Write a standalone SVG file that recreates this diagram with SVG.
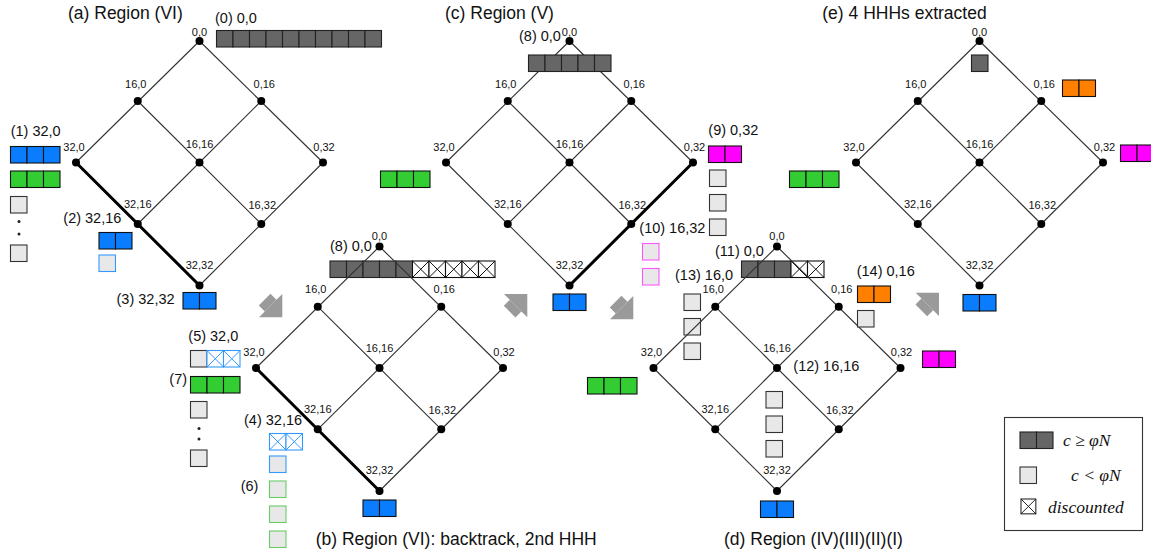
<svg xmlns="http://www.w3.org/2000/svg" xmlns:xlink="http://www.w3.org/1999/xlink" width="1151" height="554" viewBox="0 0 1151 554">
<style>
.ln{stroke:#333;stroke-width:1.1;fill:none}
.thk{stroke:#000;stroke-width:3;fill:none;stroke-linecap:round}
.dot{fill:#000}
.lbl{font-family:"Liberation Sans",Arial,sans-serif;font-size:11px;fill:#111;text-anchor:middle}
.itm{font-family:"Liberation Sans",Arial,sans-serif;font-size:14.5px;fill:#111}
.ttl{font-family:"Liberation Sans",Arial,sans-serif;font-size:17.5px;fill:#111}
.leg{font-family:"Liberation Serif","Times New Roman",serif;font-size:17.5px;font-style:italic;fill:#111}
rect{stroke-width:1.1}
.dk{fill:#666;stroke:#222}
.bl{fill:#0a7dff;stroke:#111}
.gr{fill:#33cc33;stroke:#111}
.mg{fill:#ff00ff;stroke:#111}
.or{fill:#ff8000;stroke:#111}
.lt{fill:#e8e8e8;stroke:#333}
.ltb{fill:#e8e8e8;stroke:#3399ff}
.ltg{fill:#e8e8e8;stroke:#66cc66}
.ltp{fill:#e8e8e8;stroke:#ff55ff}
.arw{fill:#9a9a9a}
</style>
<defs>
<g id="xcell"><rect width="16.5" height="16.5" fill="#fff" stroke="currentColor"/><path d="M0,0L16.5,16.5M16.5,0L0,16.5" stroke="currentColor" stroke-width="1"/></g>
<g id="barrow"><path class="arw" d="M0,0L-16.5,-16.5L-16.5,-8.25L-25,-8.25L-25,8.25L-16.5,8.25L-16.5,16.5Z"/><path d="M-16.5,-8.25L-16.5,8.25" stroke="#b5b5b5" stroke-width="0.8"/></g>
</defs>
<rect width="1151" height="554" fill="#fff" stroke="none"/>

<!-- ===== (a) ===== -->
<text class="ttl" x="68" y="18.5">(a) Region (VI)</text>
<g id="connectors-a">
<path class="ln" d="M199.5,41L76,162.5M199.5,41L323,162.5M137.75,101L261.25,224M261.25,101L137.75,224M323,162.5L199.5,285.5"/>
<path class="thk" d="M76,162.5L199.5,285.5"/>
</g>
<g id="a-0-0"><circle class="dot" cx="199.5" cy="41" r="4"/><text class="lbl" x="199.5" y="35.5">0,0</text></g>
<g id="a-16-0"><circle class="dot" cx="137.75" cy="101" r="4"/><text class="lbl" x="135.75" y="87.5">16,0</text></g>
<g id="a-0-16"><circle class="dot" cx="261.25" cy="101" r="4"/><text class="lbl" x="264.25" y="87.5">0,16</text></g>
<g id="a-32-0"><circle class="dot" cx="76" cy="162.5" r="4"/><text class="lbl" x="74" y="150.5">32,0</text></g>
<g id="a-16-16"><circle class="dot" cx="199.5" cy="162.5" r="4"/><text class="lbl" x="199.5" y="147.5">16,16</text></g>
<g id="a-0-32"><circle class="dot" cx="323" cy="162.5" r="4"/><text class="lbl" x="324" y="150.5">0,32</text></g>
<g id="a-32-16"><circle class="dot" cx="137.75" cy="224" r="4"/><text class="lbl" x="137.75" y="208">32,16</text></g>
<g id="a-16-32"><circle class="dot" cx="261.25" cy="224" r="4"/><text class="lbl" x="262.25" y="209">16,32</text></g>
<g id="a-32-32"><circle class="dot" cx="199.5" cy="285.5" r="4"/><text class="lbl" x="199.5" y="269">32,32</text></g>
<g id="a-item0"><text class="itm" x="215" y="23">(0) 0,0</text>
<rect class="dk" x="216.5" y="30.5" width="16.5" height="16.5"/><rect class="dk" x="233" y="30.5" width="16.5" height="16.5"/><rect class="dk" x="249.5" y="30.5" width="16.5" height="16.5"/><rect class="dk" x="266" y="30.5" width="16.5" height="16.5"/><rect class="dk" x="282.5" y="30.5" width="16.5" height="16.5"/><rect class="dk" x="299" y="30.5" width="16.5" height="16.5"/><rect class="dk" x="315.5" y="30.5" width="16.5" height="16.5"/><rect class="dk" x="332" y="30.5" width="16.5" height="16.5"/><rect class="dk" x="348.5" y="30.5" width="16.5" height="16.5"/><rect class="dk" x="365" y="30.5" width="16.5" height="16.5"/></g>
<g id="a-item1"><text class="itm" x="10.7" y="136">(1) 32,0</text>
<rect class="bl" x="10.5" y="146.5" width="16.5" height="16.5"/><rect class="bl" x="27" y="146.5" width="16.5" height="16.5"/><rect class="bl" x="43.5" y="146.5" width="16.5" height="16.5"/>
<rect class="gr" x="10.5" y="171" width="16.5" height="16.5"/><rect class="gr" x="27" y="171" width="16.5" height="16.5"/><rect class="gr" x="43.5" y="171" width="16.5" height="16.5"/>
<rect class="lt" x="10.5" y="196.5" width="16.5" height="16.5"/><circle cx="19" cy="221.5" r="1.5" fill="#222"/><circle cx="19" cy="234" r="1.5" fill="#222"/><rect class="lt" x="10.5" y="245" width="16.5" height="16.5"/></g>
<g id="a-item2"><text class="itm" x="63.3" y="222.5">(2) 32,16</text>
<rect class="bl" x="99" y="232.5" width="16.5" height="16.5"/><rect class="bl" x="115.5" y="232.5" width="16.5" height="16.5"/>
<rect class="ltb" x="99" y="255" width="16.5" height="16.5"/></g>
<g id="a-item3"><text class="itm" x="116.5" y="304">(3) 32,32</text>
<rect class="bl" x="183" y="292.5" width="16.5" height="16.5"/><rect class="bl" x="199.5" y="292.5" width="16.5" height="16.5"/></g>

<!-- ===== (b) ===== -->
<text class="ttl" x="315.7" y="544.5">(b) Region (VI): backtrack, 2nd HHH</text>
<g id="b-item8"><text class="itm" x="330" y="250.5">(8) 0,0</text>
<rect class="dk" x="330" y="261" width="16.5" height="16.5"/><rect class="dk" x="346.5" y="261" width="16.5" height="16.5"/><rect class="dk" x="363" y="261" width="16.5" height="16.5"/><rect class="dk" x="379.5" y="261" width="16.5" height="16.5"/><rect class="dk" x="396" y="261" width="16.5" height="16.5"/>
<use xlink:href="#xcell" x="412.5" y="261" color="#111"/><use xlink:href="#xcell" x="429" y="261" color="#111"/><use xlink:href="#xcell" x="445.5" y="261" color="#111"/><use xlink:href="#xcell" x="462" y="261" color="#111"/><use xlink:href="#xcell" x="478.5" y="261" color="#111"/></g>
<g id="connectors-b">
<path class="ln" d="M379.5,246.5L256,368M379.5,246.5L503,368M317.75,306.7L441.25,429.3M441.25,306.7L317.75,429.3M503,368L379.5,491"/>
<path class="thk" d="M256,368L379.5,491"/>
</g>
<g id="b-0-0"><circle class="dot" cx="379.5" cy="246.5" r="4"/><text class="lbl" x="379.5" y="240">0,0</text></g>
<g id="b-16-0"><circle class="dot" cx="317.75" cy="306.7" r="4"/><text class="lbl" x="315.75" y="293.2">16,0</text></g>
<g id="b-0-16"><circle class="dot" cx="441.25" cy="306.7" r="4"/><text class="lbl" x="444.25" y="293.2">0,16</text></g>
<g id="b-32-0"><circle class="dot" cx="256" cy="368" r="4"/><text class="lbl" x="254" y="356">32,0</text></g>
<g id="b-16-16"><circle class="dot" cx="379.5" cy="368" r="4"/><text class="lbl" x="379.5" y="352">16,16</text></g>
<g id="b-0-32"><circle class="dot" cx="503" cy="368" r="4"/><text class="lbl" x="504" y="356">0,32</text></g>
<g id="b-32-16"><circle class="dot" cx="317.75" cy="429.3" r="4"/><text class="lbl" x="317.75" y="413.3">32,16</text></g>
<g id="b-16-32"><circle class="dot" cx="441.25" cy="429.3" r="4"/><text class="lbl" x="442.25" y="414.3">16,32</text></g>
<g id="b-32-32"><circle class="dot" cx="379.5" cy="491" r="4"/><text class="lbl" x="379.5" y="473.5">32,32</text></g>
<g id="b-item5"><text class="itm" x="188.3" y="341">(5) 32,0</text>
<rect class="lt" x="190.5" y="350.5" width="16.5" height="16.5"/><use xlink:href="#xcell" x="207" y="350.5" color="#3399ff"/><use xlink:href="#xcell" x="223.5" y="350.5" color="#3399ff"/></g>
<g id="b-item7"><text class="itm" x="169.3" y="384">(7)</text>
<rect class="gr" x="190.5" y="376.5" width="16.5" height="16.5"/><rect class="gr" x="207" y="376.5" width="16.5" height="16.5"/><rect class="gr" x="223.5" y="376.5" width="16.5" height="16.5"/>
<rect class="lt" x="190.5" y="401.5" width="16.5" height="16.5"/><circle cx="199" cy="428.5" r="1.5" fill="#222"/><circle cx="199" cy="439" r="1.5" fill="#222"/><rect class="lt" x="190.5" y="450" width="16.5" height="16.5"/></g>
<g id="b-item4"><text class="itm" x="244" y="425">(4) 32,16</text>
<use xlink:href="#xcell" x="269.5" y="433.5" color="#3399ff"/><use xlink:href="#xcell" x="286" y="433.5" color="#3399ff"/>
<rect class="ltb" x="269.5" y="456" width="16.5" height="16.5"/></g>
<g id="b-item6"><text class="itm" x="240.7" y="491">(6)</text>
<rect class="ltg" x="269.5" y="481" width="16.5" height="16.5"/><rect class="ltg" x="269.5" y="506" width="16.5" height="16.5"/><rect class="ltg" x="269.5" y="531" width="16.5" height="16.5"/></g>
<g id="b-itembottom"><rect class="bl" x="363" y="500" width="16.5" height="16.5"/><rect class="bl" x="379.5" y="500" width="16.5" height="16.5"/></g>

<!-- ===== (c) ===== -->
<text class="ttl" x="445" y="18.5">(c) Region (V)</text>
<g id="connectors-c">
<path class="ln" d="M569.5,41L446,162.5M569.5,41L693,162.5M507.75,101L631.25,224M631.25,101L507.75,224M446,162.5L569.5,285.5"/>
<path class="thk" d="M693,162.5L569.5,285.5"/>
</g>
<g id="c-0-0"><circle class="dot" cx="569.5" cy="41" r="4"/><text class="lbl" x="569.5" y="35.5">0,0</text></g>
<g id="c-16-0"><circle class="dot" cx="507.75" cy="101" r="4"/><text class="lbl" x="505.75" y="87.5">16,0</text></g>
<g id="c-0-16"><circle class="dot" cx="631.25" cy="101" r="4"/><text class="lbl" x="634.25" y="87.5">0,16</text></g>
<g id="c-32-0"><circle class="dot" cx="446" cy="162.5" r="4"/><text class="lbl" x="444" y="150.5">32,0</text></g>
<g id="c-16-16"><circle class="dot" cx="569.5" cy="162.5" r="4"/><text class="lbl" x="569.5" y="147.5">16,16</text></g>
<g id="c-0-32"><circle class="dot" cx="693" cy="162.5" r="4"/><text class="lbl" x="694.5" y="150.5">0,32</text></g>
<g id="c-32-16"><circle class="dot" cx="507.75" cy="224" r="4"/><text class="lbl" x="507.75" y="208">32,16</text></g>
<g id="c-16-32"><circle class="dot" cx="631.25" cy="224" r="4"/><text class="lbl" x="632.25" y="209">16,32</text></g>
<g id="c-32-32"><circle class="dot" cx="569.5" cy="285.5" r="4"/><text class="lbl" x="569.5" y="269">32,32</text></g>
<g id="c-item8"><text class="itm" x="519" y="40.5">(8) 0,0</text>
<rect class="dk" x="528.5" y="55" width="16.5" height="16.5"/><rect class="dk" x="545" y="55" width="16.5" height="16.5"/><rect class="dk" x="561.5" y="55" width="16.5" height="16.5"/><rect class="dk" x="578" y="55" width="16.5" height="16.5"/><rect class="dk" x="594.5" y="55" width="16.5" height="16.5"/></g>
<g id="c-itemgreen"><rect class="gr" x="380.5" y="171" width="16.5" height="16.5"/><rect class="gr" x="397" y="171" width="16.5" height="16.5"/><rect class="gr" x="413.5" y="171" width="16.5" height="16.5"/></g>
<g id="c-item9"><text class="itm" x="708.3" y="134.5">(9) 0,32</text>
<rect class="mg" x="708.5" y="146" width="16.5" height="16.5"/><rect class="mg" x="725" y="146" width="16.5" height="16.5"/>
<rect class="lt" x="709.5" y="170" width="16.5" height="16.5"/><rect class="lt" x="709.5" y="194.5" width="16.5" height="16.5"/><rect class="lt" x="709.5" y="219" width="16.5" height="16.5"/></g>
<g id="c-item10"><text class="itm" x="639.3" y="233">(10) 16,32</text>
<rect class="ltp" x="642.5" y="243.5" width="16.5" height="16.5"/><rect class="ltp" x="642.5" y="268.5" width="16.5" height="16.5"/></g>
<g id="c-itembottom"><rect class="bl" x="553" y="294" width="16.5" height="16.5"/><rect class="bl" x="569.5" y="294" width="16.5" height="16.5"/></g>

<!-- ===== (d) ===== -->
<text class="ttl" x="724" y="544.5">(d) Region (IV)(III)(II)(I)</text>
<g id="d-item11"><text class="itm" x="715" y="256">(11) 0,0</text>
<rect class="dk" x="741.5" y="261" width="16.5" height="16.5"/><rect class="dk" x="758" y="261" width="16.5" height="16.5"/><rect class="dk" x="774.5" y="261" width="16.5" height="16.5"/>
<use xlink:href="#xcell" x="791" y="261" color="#111"/><use xlink:href="#xcell" x="807.5" y="261" color="#111"/></g>
<g id="d-item13"><text class="itm" x="675" y="279.5">(13) 16,0</text>
<rect class="lt" x="684" y="294" width="16.5" height="16.5"/><rect class="lt" x="684" y="318.5" width="16.5" height="16.5"/><rect class="lt" x="684" y="343" width="16.5" height="16.5"/></g>
<g id="connectors-d">
<path class="ln" d="M777,246.5L653.5,368M777,246.5L900.5,368M715.25,306.7L838.75,429.3M838.75,306.7L715.25,429.3M653.5,368L777,491M900.5,368L777,491"/>
</g>
<g id="d-0-0"><circle class="dot" cx="777" cy="246.5" r="4"/><text class="lbl" x="777" y="240">0,0</text></g>
<g id="d-16-0"><circle class="dot" cx="715.25" cy="306.7" r="4"/><text class="lbl" x="713.25" y="293.2">16,0</text></g>
<g id="d-0-16"><circle class="dot" cx="838.75" cy="306.7" r="4"/><text class="lbl" x="841.75" y="293.2">0,16</text></g>
<g id="d-32-0"><circle class="dot" cx="653.5" cy="368" r="4"/><text class="lbl" x="651.5" y="356">32,0</text></g>
<g id="d-16-16"><circle class="dot" cx="777" cy="368" r="4"/><text class="lbl" x="777" y="352">16,16</text></g>
<g id="d-0-32"><circle class="dot" cx="900.5" cy="368" r="4"/><text class="lbl" x="901.5" y="356">0,32</text></g>
<g id="d-32-16"><circle class="dot" cx="715.25" cy="429.3" r="4"/><text class="lbl" x="715.25" y="413.3">32,16</text></g>
<g id="d-16-32"><circle class="dot" cx="838.75" cy="429.3" r="4"/><text class="lbl" x="839.75" y="414.3">16,32</text></g>
<g id="d-32-32"><circle class="dot" cx="777" cy="491" r="4"/><text class="lbl" x="777" y="473.5">32,32</text></g>
<g id="d-item14"><text class="itm" x="856.7" y="276">(14) 0,16</text>
<rect class="or" x="857.5" y="286" width="16.5" height="16.5"/><rect class="or" x="874" y="286" width="16.5" height="16.5"/>
<rect class="lt" x="857.5" y="310.5" width="16.5" height="16.5"/></g>
<g id="d-item12"><text class="itm" x="793.3" y="370.5">(12) 16,16</text>
<rect class="lt" x="766" y="391.5" width="16.5" height="16.5"/><rect class="lt" x="766" y="416" width="16.5" height="16.5"/><rect class="lt" x="766" y="440.5" width="16.5" height="16.5"/></g>
<g id="d-itembottom"><rect class="bl" x="760.5" y="501" width="16.5" height="16.5"/><rect class="bl" x="777" y="501" width="16.5" height="16.5"/></g>
<g id="d-itemgreen"><rect class="gr" x="587.5" y="377.5" width="16.5" height="16.5"/><rect class="gr" x="604" y="377.5" width="16.5" height="16.5"/><rect class="gr" x="620.5" y="377.5" width="16.5" height="16.5"/></g>
<g id="d-itemmagenta"><rect class="mg" x="922.5" y="351" width="16.5" height="16.5"/><rect class="mg" x="939" y="351" width="16.5" height="16.5"/></g>

<!-- ===== (e) ===== -->
<text class="ttl" x="822.3" y="18.5">(e) 4 HHHs extracted</text>
<g id="connectors-e">
<path class="ln" d="M979.5,41L856,162.5M979.5,41L1103,162.5M917.75,101L1041.25,224M1041.25,101L917.75,224M856,162.5L979.5,285.5M1103,162.5L979.5,285.5"/>
</g>
<g id="e-0-0"><circle class="dot" cx="979.5" cy="41" r="4"/><text class="lbl" x="979.5" y="35.5">0,0</text></g>
<g id="e-16-0"><circle class="dot" cx="917.75" cy="101" r="4"/><text class="lbl" x="915.75" y="87.5">16,0</text></g>
<g id="e-0-16"><circle class="dot" cx="1041.25" cy="101" r="4"/><text class="lbl" x="1044.25" y="87.5">0,16</text></g>
<g id="e-32-0"><circle class="dot" cx="856" cy="162.5" r="4"/><text class="lbl" x="854" y="150.5">32,0</text></g>
<g id="e-16-16"><circle class="dot" cx="979.5" cy="162.5" r="4"/><text class="lbl" x="979.5" y="147.5">16,16</text></g>
<g id="e-0-32"><circle class="dot" cx="1103" cy="162.5" r="4"/><text class="lbl" x="1104.5" y="150.5">0,32</text></g>
<g id="e-32-16"><circle class="dot" cx="917.75" cy="224" r="4"/><text class="lbl" x="917.75" y="208">32,16</text></g>
<g id="e-16-32"><circle class="dot" cx="1041.25" cy="224" r="4"/><text class="lbl" x="1042.25" y="209">16,32</text></g>
<g id="e-32-32"><circle class="dot" cx="979.5" cy="285.5" r="4"/><text class="lbl" x="979.5" y="269">32,32</text></g>
<g id="e-items">
<rect class="dk" x="971.5" y="55" width="16.5" height="16.5"/>
<rect class="or" x="1062.5" y="80" width="16.5" height="16.5"/><rect class="or" x="1079" y="80" width="16.5" height="16.5"/>
<rect class="mg" x="1120.5" y="145" width="16.5" height="16.5"/><rect class="mg" x="1137" y="145" width="16.5" height="16.5"/>
<rect class="gr" x="789.5" y="171" width="16.5" height="16.5"/><rect class="gr" x="806" y="171" width="16.5" height="16.5"/><rect class="gr" x="822.5" y="171" width="16.5" height="16.5"/>
<rect class="bl" x="963" y="294.5" width="16.5" height="16.5"/><rect class="bl" x="979.5" y="294.5" width="16.5" height="16.5"/>
</g>

<!-- ===== block arrows between panels ===== -->
<g id="connectors-arrows">
<use xlink:href="#barrow" transform="translate(282.3,317.3) rotate(45)"/>
<use xlink:href="#barrow" transform="translate(527.3,294) rotate(-45)"/>
<use xlink:href="#barrow" transform="translate(633.3,319.3) rotate(45)"/>
<use xlink:href="#barrow" transform="translate(939,292.7) rotate(-45)"/>
</g>

<!-- ===== legend ===== -->
<g id="legend">
<rect x="1004.5" y="417.5" width="138" height="113" fill="#fff" stroke="#333" stroke-width="1"/>
<rect class="dk" x="1020" y="432" width="16.5" height="16.5"/><rect class="dk" x="1036.5" y="432" width="16.5" height="16.5"/>
<text class="leg" x="1063" y="446">c ≥ φN</text>
<rect class="lt" x="1020" y="467" width="16.5" height="16.5"/>
<text class="leg" x="1071" y="481">c &lt; φN</text>
<use xlink:href="#xcell" transform="translate(1021,499) scale(0.9)" color="#111"/>
<text class="leg" x="1048" y="513">discounted</text>
</g>
</svg>
